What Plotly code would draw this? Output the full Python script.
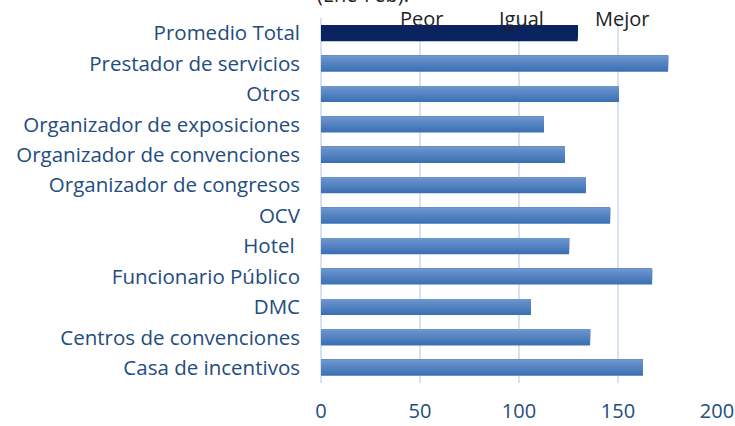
import plotly.graph_objects as go

categories = [
    "Casa de incentivos",
    "Centros de convenciones",
    "DMC",
    "Funcionario Público",
    "Hotel ",
    "OCV",
    "Organizador de congresos",
    "Organizador de convenciones",
    "Organizador de exposiciones",
    "Otros",
    "Prestador de servicios",
    "Promedio Total",
]
values = [162.6, 135.9, 106, 167.2, 125.3, 146, 133.8, 123.2, 112.6, 150.5, 175.3, 129.6]
x_ticks = [0, 50, 100, 150, 200]
scale_labels = ["Peor", "Igual", "Mejor"]
scale_positions = [51, 101.5, 152]

TOTAL = "Promedio Total"
BAR_W = 0.53
N_LAYERS = 10
top_rgb = (108, 148, 205)
bot_rgb = (60, 113, 180)


def mix(t):
    return "rgb(%d,%d,%d)" % tuple(round(b + (a - b) * t) for a, b in zip(top_rgb, bot_rgb))


fig = go.Figure()
# gradient bars: stacked layers, each narrower and anchored at the top edge
for k in range(N_LAYERS):
    frac = 1 - k / N_LAYERS
    col = mix(k / (N_LAYERS - 1))
    colors = ["#0B2360" if c == TOTAL else col for c in categories]
    fig.add_trace(go.Bar(
        y=categories, x=values, orientation="h",
        marker=dict(color=colors, line=dict(width=0)),
        width=BAR_W * frac, offset=BAR_W / 2 - BAR_W * frac,
    ))

label_color = "#234C80"
fig.update_layout(
    width=735, height=426,
    margin=dict(l=321, r=18, t=18, b=43, autoexpand=False),
    paper_bgcolor="white", plot_bgcolor="white",
    showlegend=False, barmode="overlay", hovermode=False,
    font=dict(family="Open Sans", size=20, color=label_color),
    xaxis=dict(
        range=[0, 200], tickvals=x_ticks, showgrid=True,
        gridcolor="#D7E3F3", gridwidth=2, zeroline=True, zerolinecolor="#D7E3F3",
        zerolinewidth=2, showline=False, ticks="", ticklabelstandoff=14,
        tickfont=dict(size=20, color=label_color), automargin=False,
    ),
    yaxis=dict(
        categoryorder="array", categoryarray=categories,
        showgrid=False, ticks="", ticklabelstandoff=20,
        tickfont=dict(size=20.5, color=label_color), automargin=False,
    ),
)

for lab, pos in zip(scale_labels, scale_positions):
    fig.add_annotation(x=pos, y=1.0, xref="x", yref="paper", text=lab,
                       showarrow=False, xanchor="center", yanchor="middle",
                       font=dict(family="Open Sans", size=20, color="#222222"))

fig.add_annotation(x=21, y=1.065, xref="x", yref="paper", text="(Ene-Feb).",
                   showarrow=False, xanchor="center", yanchor="middle",
                   font=dict(family="Open Sans", size=20, color="#222222"))

fig.write_html("out.html", config={"displayModeBar": False},
               post_script="document.body.style.margin='0';")
